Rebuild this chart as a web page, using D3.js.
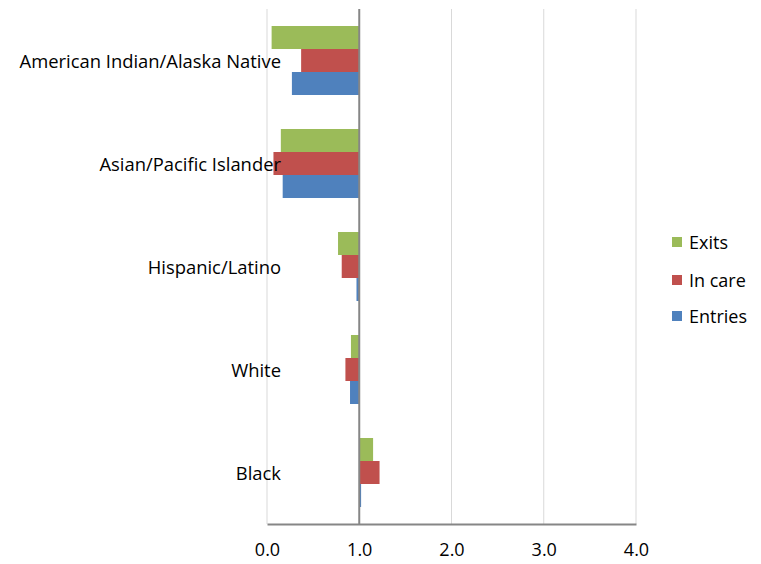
<!DOCTYPE html>
<html><head><meta charset="utf-8">
<script src="https://cdn.jsdelivr.net/npm/d3@7"></script>
<style>body{margin:0;background:#fff}svg{display:block}text{font-family:"Open Sans","Noto Sans",sans-serif;fill:#000}</style>
</head><body>
<script>
const categories = ["American Indian/Alaska Native","Asian/Pacific Islander","Hispanic/Latino","White","Black"];
const seriesNames = ["Exits","In care","Entries"];
const exits   = [0.05, 0.15, 0.77, 0.91, 1.15];
const inCare  = [0.37, 0.07, 0.81, 0.85, 1.22];
const entries = [0.27, 0.17, 0.97, 0.90, 1.02];
const xTicks = [0, 1, 2, 3, 4];
const colors = ["#9BBB59","#C0504D","#4F81BD"];
const seriesValues = [exits, inCare, entries];

const W = 761, H = 564;
const svg = d3.select("body").append("svg").attr("width", W).attr("height", H);
const x = d3.scaleLinear().domain([0,4]).range([267, 636]);
const y0 = d3.scaleBand().domain(categories).range([9, 524]).paddingInner(0.33).paddingOuter(0.165);
const y1 = d3.scaleBand().domain(seriesNames).range([0, y0.bandwidth()]);

// gridlines
svg.append("g").selectAll("line").data(xTicks.filter(t => t !== 1)).join("line")
  .attr("x1", d => x(d)).attr("x2", d => x(d)).attr("y1", 9).attr("y2", 524)
  .attr("stroke", "#d9d9d9").attr("stroke-width", 1);

// bars
const groups = svg.append("g").selectAll("g").data(categories).join("g")
  .attr("transform", c => `translate(0,${y0(c)})`);
groups.selectAll("rect").data((c, i) => seriesNames.map((s, j) => ({s, v: seriesValues[j][i], j})))
  .join("rect")
  .attr("x", d => Math.min(x(1), x(d.v)))
  .attr("width", d => Math.abs(x(d.v) - x(1)))
  .attr("y", d => y1(d.s))
  .attr("height", y1.bandwidth())
  .attr("fill", d => colors[d.j]);

// baseline at 1.0
svg.append("line").attr("x1", x(1)).attr("x2", x(1)).attr("y1", 9).attr("y2", 524)
  .attr("stroke", "#868686").attr("stroke-width", 2);

// x axis
const xAxis = d3.axisBottom(x).tickValues(xTicks).tickFormat(d3.format(".1f")).tickSize(0).tickPadding(19);
const gx = svg.append("g").attr("transform", "translate(0,524)").call(xAxis);
gx.select(".domain").attr("stroke", "#868686").attr("stroke-width", 2);
gx.selectAll("text").attr("font-size", 18).style("font-family", '"Open Sans","Noto Sans",sans-serif');

// category labels
svg.append("g").selectAll("text").data(categories).join("text")
  .attr("x", 281).attr("y", c => y0(c) + y0.bandwidth()/2)
  .attr("text-anchor", "end").attr("dominant-baseline", "central")
  .attr("font-size", 18.4).text(c => c);

// legend
const legY = [242, 280, 316];
const leg = svg.append("g").selectAll("g").data(seriesNames).join("g")
  .attr("transform", (d, i) => `translate(672,${legY[i]})`);
leg.append("rect").attr("x", 0).attr("y", -5).attr("width", 10).attr("height", 10).attr("fill", (d, i) => colors[i]);
leg.append("text").attr("x", 17).attr("y", 0).attr("dominant-baseline", "central").attr("font-size", 18).text(d => d);
</script>
</body></html>
